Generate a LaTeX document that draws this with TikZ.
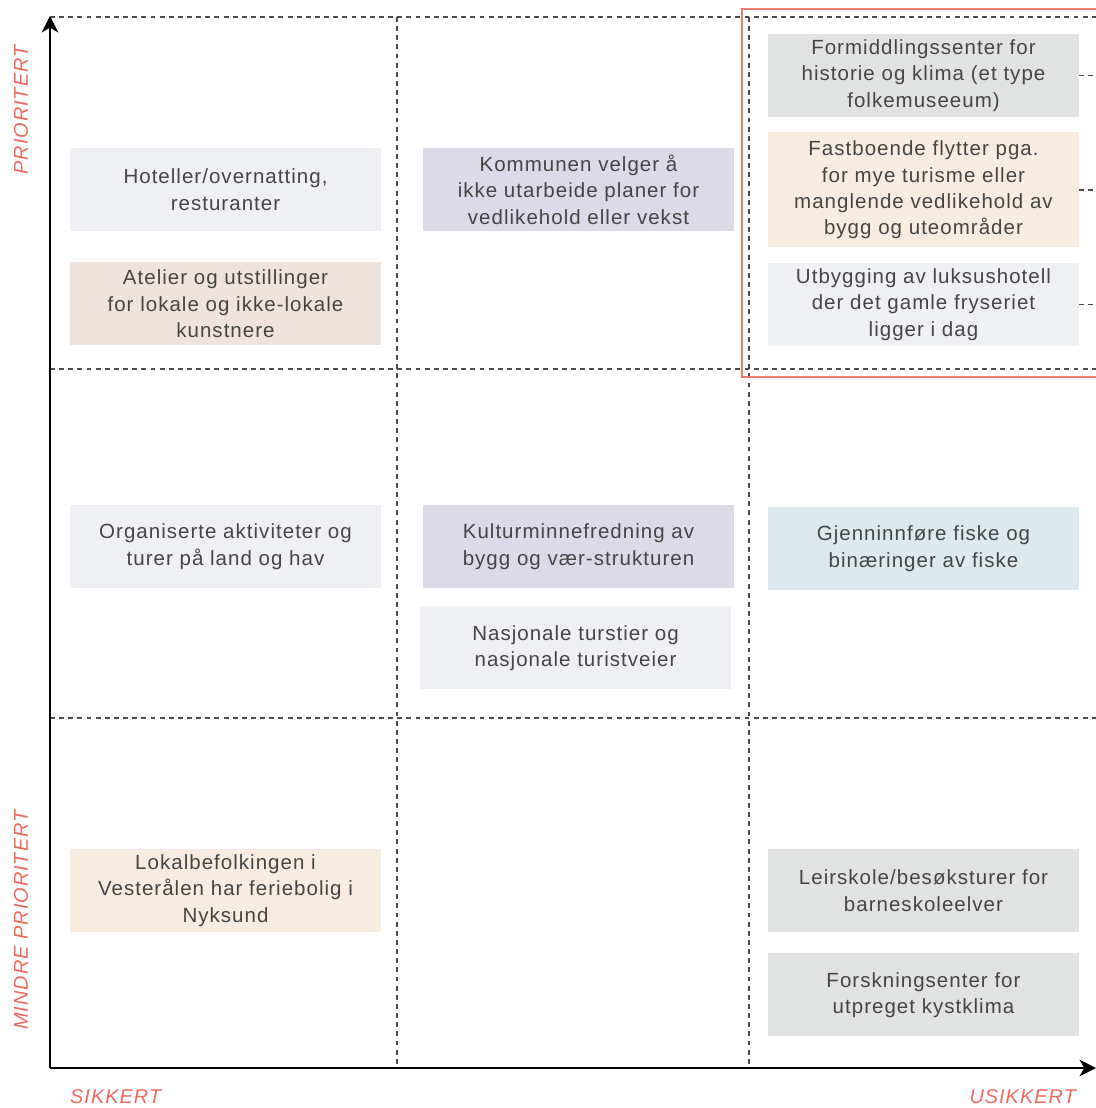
\documentclass[tikz,border=0pt]{standalone}
\usepackage{fontspec}
\setmainfont{Liberation Sans}[LetterSpace=5.0]
\usetikzlibrary{positioning, arrows.meta}
\definecolor{txtgray}{HTML}{454545}
\definecolor{lblred}{HTML}{EF6A5E}
\definecolor{dashgray}{HTML}{4A4A4A}
\definecolor{lgray}{HTML}{EFF0F3}
\definecolor{rose}{HTML}{EEE3DD}
\definecolor{peach}{HTML}{F8ECE0}
\definecolor{lilac}{HTML}{DCDAE6}
\definecolor{sage}{HTML}{E0E3E2}
\definecolor{ice}{HTML}{DDE9EC}

\tikzset{
  box/.style={fill=#1, minimum width=9.33cm, minimum height=2.49cm, inner sep=0pt,
    align=center, text=txtgray, font=\fontsize{17.5pt}{22.6pt}\selectfont},
  gridline/.style={dashgray, line width=1pt, dash pattern=on 4.2pt off 3.6pt},
  axlabel/.style={text=lblred, inner sep=0pt, font=\fontsize{17pt}{20pt}\selectfont\itshape}
}

\begin{document}
\begin{tikzpicture}[x=0.03cm, y=-0.03cm]
    \useasboundingbox (0,0) rectangle (1096,1108);

    % rutenett
    \foreach \x in {397,749} \draw [gridline](\x,17)--(\x,1068);
    \foreach \y in {17,369,718} \draw [gridline](50,\y)--(1096,\y);

    % akser
    \coordinate(o)at(50,1068);
    \coordinate(ytop)at(50,16);
    \coordinate(xend)at(1096,1068);
    \draw [-{Stealth[length=14pt,width=14pt,inset=4pt]}, line width=1.6pt](o)--(ytop);
    \draw [-{Stealth[length=14pt,width=14pt,inset=4pt]}, line width=1.6pt](o)--(xend);

    \node[axlabel, rotate=90] (prio) at (21,110) {PRIORITERT};
    \node[axlabel, rotate=90] (mindre) at (21,920) {MINDRE PRIORITERT};
    \node[axlabel, anchor=west] (sikker) at (70,1097) {SIKKERT};
    \node[axlabel, anchor=east] (usikker) at (1076,1097) {USIKKERT};

    % sikkert
    \node[box=lgray] (hotell) at (225.5,189.5) {Hoteller/overnatting,\\resturanter};
    \node[box=rose, below=0.93cm of hotell] (atelier) {Atelier og utstillinger\\for lokale og ikke-lokale\\kunstnere};
    \node[box=lgray] (aktivitet) at (225.5,546.5) {Organiserte aktiviteter og\\turer på land og hav};
    \node[box=peach] (feriebolig) at (225.5,890.5) {Lokalbefolkingen i\\Vesterålen har feriebolig i\\Nyksund};

    % midten
    \node[box=lilac] (kommune) at (578.5,189.5) {Kommunen velger å\\ikke utarbeide planer for\\vedlikehold eller vekst};
    \node[box=lilac] (kultur) at (578.5,546.5) {Kulturminnefredning av\\bygg og vær-strukturen};
    \node[box=lgray, below=0.54cm of kultur, xshift=-0.09cm] (turvei) {Nasjonale turstier og\\nasjonale turistveier};

    % usikkert
    \node[box=sage] (formid) at (923.5,75.5) {Formiddlingssenter for\\historie og klima (et type\\folkemuseeum)};
    \node[box=peach, minimum height=3.45cm, below=0.45cm of formid] (flytt) {Fastboende flytter pga.\\for mye turisme eller\\manglende vedlikehold av\\bygg og uteområder};
    \node[box=lgray, below=0.45cm of flytt] (luksus) {Utbygging av luksushotell\\der det gamle fryseriet\\ligger i dag};
    \node[box=ice] (fiske) at (923.5,548.5) {Gjenninnføre fiske og\\binæringer av fiske};
    \node[box=sage] (leirskole) at (923.5,890.5) {Leirskole/besøksturer for\\barneskoleelver};
    \node[box=sage, below=0.63cm of leirskole] (forskning) {Forskningsenter for\\utpreget kystklima};

    % utvalg
    \coordinate(edge)at(1096,0);
    \foreach\n in{formid,flytt,luksus}{
        \coordinate(\n-end)at(\n.east -| edge);
        \draw [gridline](\n.east)--(\n-end);
    }
    \draw [color=lblred!90, line width=1.1pt](1100,9)--(742,9)--(742,377)--(1100,377);
\end{tikzpicture}
\end{document}
